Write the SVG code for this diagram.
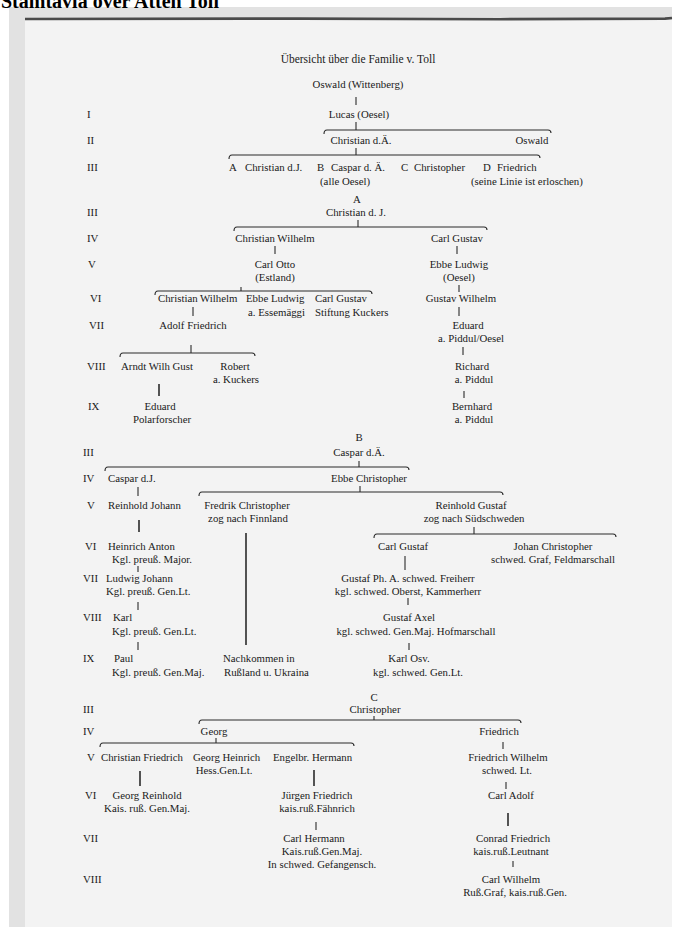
<svg xmlns="http://www.w3.org/2000/svg" width="675" height="927" viewBox="0 0 675 927">
<style>
text{font-family:"Liberation Serif","Times New Roman",serif;font-size:10.8px;fill:#1a1a1a}
.m{text-anchor:middle}
.title{font-size:11.5px}
.hdr{font-size:20px;font-weight:bold;fill:#000}
.c{stroke:#2a2a2a;stroke-width:1.1;fill:none}
.k{stroke:#2a2a2a;stroke-width:1.6;fill:none}
</style>
<rect x="0" y="0" width="675" height="927" fill="#ffffff"/>
<rect x="9" y="7" width="663" height="920" fill="#e2e2e2"/>
<rect x="25" y="20" width="647" height="907" fill="#f3f3f3"/>
<path d="M25,19 L300,18.6 L500,19.2 L665,18.6 L672,18" stroke="#4a4a4a" stroke-width="2.6" fill="none"/>
<text class="hdr" x="1" y="8">Stamtavla över Atten Toll</text>

<g id="title"><text class="m title" x="358" y="63">Übersicht über die Familie v. Toll</text></g>

<g id="gen-labels">
<text x="87" y="118">I</text>
<text x="87" y="144">II</text>
<text x="87" y="171">III</text>
<text x="87" y="216">III</text>
<text x="87" y="242">IV</text>
<text x="88" y="268">V</text>
<text x="90" y="302">VI</text>
<text x="89" y="329">VII</text>
<text x="87" y="370">VIII</text>
<text x="88" y="410">IX</text>
<text x="83" y="456">III</text>
<text x="83" y="482">IV</text>
<text x="87" y="509">V</text>
<text x="85" y="550">VI</text>
<text x="83" y="582">VII</text>
<text x="83" y="621">VIII</text>
<text x="83" y="662">IX</text>
<text x="83" y="713">III</text>
<text x="83" y="735">IV</text>
<text x="87" y="761">V</text>
<text x="85" y="799">VI</text>
<text x="83" y="842">VII</text>
<text x="83" y="883">VIII</text>
</g>

<g id="connectors">
<line class="c" x1="356" y1="97" x2="356" y2="105"/>
<line class="c" x1="356" y1="122" x2="356" y2="130"/>
<path class="c" d="M324,134 Q324,130 327,130 L548,130 Q551,130 551,133"/>
<line class="c" x1="356" y1="148" x2="356" y2="155"/>
<path class="c" d="M229,159 Q229,155 232,155 L537,155 Q540,155 540,158"/>
<line class="c" x1="358" y1="220" x2="358" y2="227"/>
<path class="c" d="M234,231 Q234,227 237,227 L484,227 Q487,227 487,230"/>
<line class="c" x1="275" y1="246" x2="275" y2="254"/>
<line class="c" x1="457" y1="246" x2="457" y2="254"/>
<path class="c" d="M155,295 Q155,291 158,291 L369,291 Q372,291 372,294"/>
<line class="c" x1="241" y1="287" x2="241" y2="291"/>
<line class="c" x1="459" y1="285" x2="459" y2="292"/>
<line class="c" x1="193" y1="307" x2="193" y2="316"/>
<line class="c" x1="459" y1="307" x2="459" y2="316"/>
<line class="c" x1="191" y1="345" x2="191" y2="353"/>
<path class="c" d="M120,357 Q120,353 123,353 L252,353 Q255,353 255,356"/>
<line class="c" x1="463" y1="347" x2="463" y2="355"/>
<line class="k" x1="159" y1="384" x2="159" y2="396"/>
<line class="c" x1="464" y1="391" x2="464" y2="398"/>
<line class="c" x1="359" y1="461" x2="359" y2="467"/>
<path class="c" d="M105,471 Q105,467 108,467 L406,467 Q409,467 409,470"/>
<line class="c" x1="138" y1="487" x2="138" y2="496"/>
<line class="c" x1="360" y1="486" x2="360" y2="492"/>
<path class="c" d="M199,496 Q199,492 202,492 L500,492 Q503,492 503,495"/>
<line class="k" x1="139" y1="520" x2="139" y2="532"/>
<line class="c" x1="474" y1="527" x2="474" y2="534"/>
<path class="c" d="M374,538 Q374,534 377,534 L613,534 Q616,534 616,537"/>
<line class="k" x1="246" y1="533" x2="246" y2="645"/>
<line class="c" x1="138" y1="566" x2="138" y2="572"/>
<line class="c" x1="405" y1="556" x2="405" y2="570"/>
<line class="c" x1="138" y1="602" x2="138" y2="610"/>
<line class="c" x1="408" y1="598" x2="408" y2="605"/>
<line class="c" x1="138" y1="642" x2="138" y2="650"/>
<line class="c" x1="409" y1="643" x2="409" y2="650"/>
<line class="c" x1="374" y1="716" x2="374" y2="720"/>
<path class="c" d="M199,724 Q199,720 202,720 L518,720 Q521,720 521,723"/>
<line class="c" x1="216" y1="738" x2="216" y2="743"/>
<path class="c" d="M100,747 Q100,743 103,743 L351,743 Q354,743 354,746"/>
<line class="c" x1="503" y1="742" x2="503" y2="749"/>
<line class="k" x1="140" y1="771" x2="140" y2="786"/>
<line class="k" x1="314" y1="770" x2="314" y2="786"/>
<line class="c" x1="506" y1="782" x2="506" y2="789"/>
<line class="c" x1="316" y1="822" x2="316" y2="830"/>
<line class="k" x1="508" y1="813" x2="508" y2="826"/>
<line class="c" x1="513" y1="861" x2="513" y2="867"/>
</g>

<g id="n-oswald-w"><text class="m" x="358" y="88">Oswald (Wittenberg)</text></g>
<g id="n-lucas"><text class="m" x="359" y="118">Lucas (Oesel)</text></g>
<g id="n-christian-da"><text class="m" x="361" y="144">Christian d.Ä.</text></g>
<g id="n-oswald"><text class="m" x="532" y="144">Oswald</text></g>
<g id="n-a"><text x="229" y="171">A<tspan x="245">Christian d.J.</tspan></text></g>
<g id="n-b"><text x="317" y="171">B<tspan x="331">Caspar d. Ä.</tspan></text><text x="320" y="185">(alle Oesel)</text></g>
<g id="n-c"><text x="401" y="171">C<tspan x="414">Christopher</tspan></text></g>
<g id="n-d"><text x="483" y="171">D<tspan x="497">Friedrich</tspan></text><text x="471" y="185">(seine Linie ist erloschen)</text></g>

<g id="a-head"><text class="m" x="357" y="203">A</text><text class="m" x="356" y="216">Christian d. J.</text></g>
<g id="a-cw4"><text class="m" x="275" y="242">Christian Wilhelm</text></g>
<g id="a-cg4"><text class="m" x="457" y="242">Carl Gustav</text></g>
<g id="a-co"><text class="m" x="275" y="268">Carl Otto</text><text class="m" x="275" y="281">(Estland)</text></g>
<g id="a-el"><text class="m" x="459" y="268">Ebbe Ludwig</text><text class="m" x="459" y="281">(Oesel)</text></g>
<g id="a-cw6"><text x="158" y="302">Christian Wilhelm</text></g>
<g id="a-el6"><text x="246" y="302">Ebbe Ludwig</text><text x="248" y="316">a. Essemäggi</text></g>
<g id="a-cg6"><text x="315" y="302">Carl Gustav</text><text x="315" y="316">Stiftung Kuckers</text></g>
<g id="a-gw"><text class="m" x="461" y="302">Gustav Wilhelm</text></g>
<g id="a-af"><text class="m" x="193" y="329">Adolf Friedrich</text></g>
<g id="a-ed"><text class="m" x="468" y="329">Eduard</text><text class="m" x="471" y="342">a. Piddul/Oesel</text></g>
<g id="a-awg"><text x="121" y="370">Arndt Wilh Gust</text></g>
<g id="a-rob"><text class="m" x="235" y="370">Robert</text><text class="m" x="236" y="383">a. Kuckers</text></g>
<g id="a-ric"><text class="m" x="472" y="370">Richard</text><text class="m" x="474" y="383">a. Piddul</text></g>
<g id="a-edp"><text class="m" x="160" y="410">Eduard</text><text class="m" x="162" y="423">Polarforscher</text></g>
<g id="a-ber"><text class="m" x="472" y="410">Bernhard</text><text class="m" x="474" y="423">a. Piddul</text></g>

<g id="b-head"><text class="m" x="359" y="441">B</text><text class="m" x="359" y="456">Caspar d.Ä.</text></g>
<g id="b-cdj"><text x="108" y="482">Caspar d.J.</text></g>
<g id="b-ec"><text class="m" x="369" y="482">Ebbe Christopher</text></g>
<g id="b-rj"><text x="108" y="509">Reinhold Johann</text></g>
<g id="b-fc"><text class="m" x="247" y="509">Fredrik Christopher</text><text class="m" x="248" y="522">zog nach Finnland</text></g>
<g id="b-rg"><text class="m" x="471" y="509">Reinhold Gustaf</text><text class="m" x="474" y="522">zog nach Südschweden</text></g>
<g id="b-ha"><text x="108" y="550">Heinrich Anton</text><text x="112" y="563">Kgl. preuß. Major.</text></g>
<g id="b-cg"><text class="m" x="403" y="550">Carl Gustaf</text></g>
<g id="b-jc"><text class="m" x="553" y="550">Johan Christopher</text><text class="m" x="553" y="563">schwed. Graf, Feldmarschall</text></g>
<g id="b-lj"><text x="106" y="582">Ludwig Johann</text><text x="106" y="595">Kgl. preuß. Gen.Lt.</text></g>
<g id="b-gpa"><text class="m" x="408" y="582">Gustaf Ph. A. schwed. Freiherr</text><text class="m" x="408" y="595">kgl. schwed. Oberst, Kammerherr</text></g>
<g id="b-karl"><text x="113" y="621">Karl</text><text x="112" y="635">Kgl. preuß. Gen.Lt.</text></g>
<g id="b-ga"><text class="m" x="409" y="621">Gustaf Axel</text><text class="m" x="416" y="635">kgl. schwed. Gen.Maj. Hofmarschall</text></g>
<g id="b-paul"><text x="114" y="662">Paul</text><text x="112" y="676">Kgl. preuß. Gen.Maj.</text></g>
<g id="b-nach"><text x="223" y="662">Nachkommen in</text><text x="224" y="676">Rußland u. Ukraina</text></g>
<g id="b-ko"><text class="m" x="409" y="662">Karl Osv.</text><text class="m" x="418" y="676">kgl. schwed. Gen.Lt.</text></g>

<g id="c-head"><text class="m" x="374" y="701">C</text><text class="m" x="375" y="713">Christopher</text></g>
<g id="c-georg"><text class="m" x="214" y="735">Georg</text></g>
<g id="c-fr"><text class="m" x="499" y="735">Friedrich</text></g>
<g id="c-cf"><text x="101" y="761">Christian Friedrich</text></g>
<g id="c-gh"><text x="193" y="761">Georg Heinrich</text><text class="m" x="224" y="774">Hess.Gen.Lt.</text></g>
<g id="c-eh"><text x="273" y="761">Engelbr. Hermann</text></g>
<g id="c-fw"><text class="m" x="508" y="761">Friedrich Wilhelm</text><text class="m" x="507" y="774">schwed. Lt.</text></g>
<g id="c-gr"><text class="m" x="147" y="799">Georg Reinhold</text><text class="m" x="147" y="812">Kais. ruß. Gen.Maj.</text></g>
<g id="c-jf"><text class="m" x="317" y="799">Jürgen Friedrich</text><text class="m" x="317" y="812">kais.ruß.Fähnrich</text></g>
<g id="c-ca"><text class="m" x="511" y="799">Carl Adolf</text></g>
<g id="c-ch"><text class="m" x="314" y="842">Carl Hermann</text><text class="m" x="322" y="855">Kais.ruß.Gen.Maj.</text><text class="m" x="322" y="868">In schwed. Gefangensch.</text></g>
<g id="c-cof"><text class="m" x="513" y="842">Conrad Friedrich</text><text class="m" x="511" y="855">kais.ruß.Leutnant</text></g>
<g id="c-cw"><text class="m" x="511" y="883">Carl Wilhelm</text><text class="m" x="515" y="896">Ruß.Graf, kais.ruß.Gen.</text></g>
</svg>
